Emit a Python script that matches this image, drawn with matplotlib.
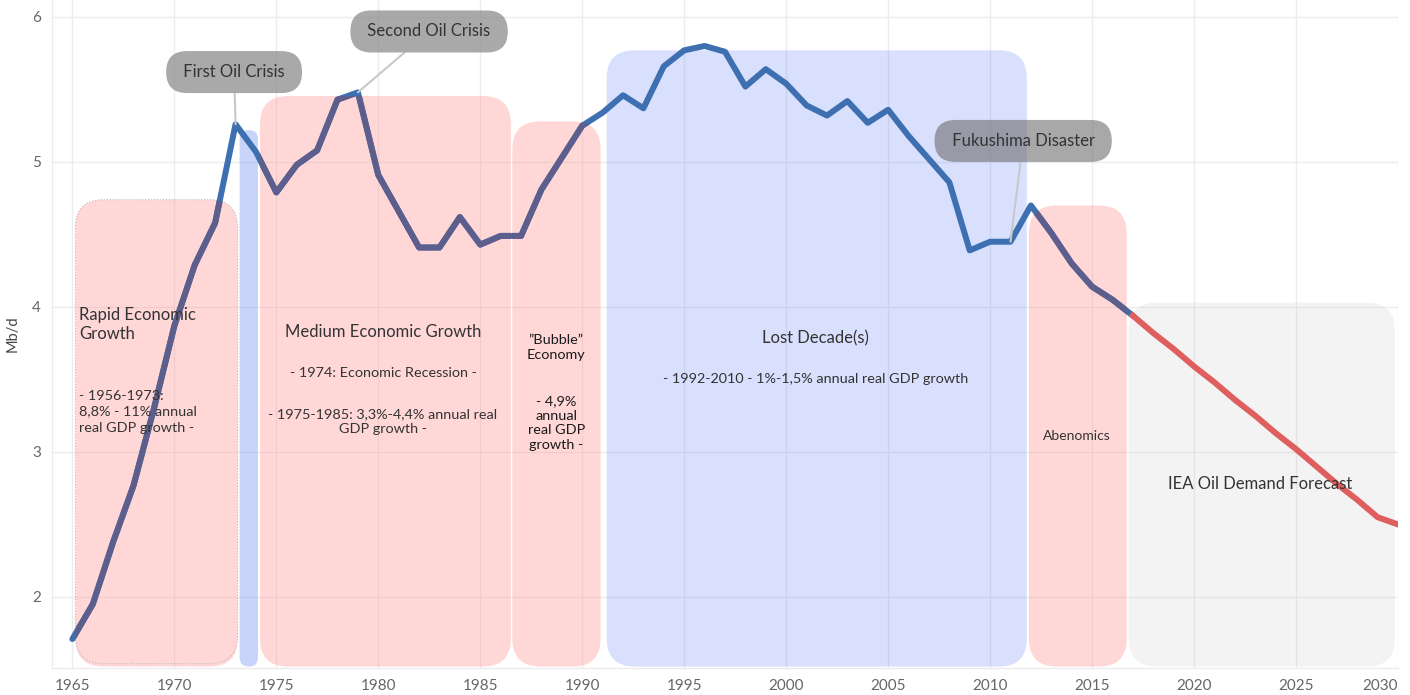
import matplotlib
matplotlib.use("Agg")
import matplotlib.pyplot as plt
from matplotlib.patches import FancyBboxPatch, BoxStyle

plt.rcParams['font.family'] = ['Lato', 'DejaVu Sans']

# Japan oil demand, Mb/d
hist_years = list(range(1965, 2018))
hist_values = [1.71, 1.95, 2.38, 2.77, 3.30, 3.87, 4.29, 4.58, 5.26, 5.07,
               4.79, 4.98, 5.08, 5.43, 5.48, 4.91, 4.66, 4.41, 4.41, 4.62,
               4.43, 4.49, 4.49, 4.81, 5.03, 5.25, 5.34, 5.46, 5.37, 5.66,
               5.77, 5.80, 5.76, 5.52, 5.64, 5.54, 5.39, 5.32, 5.42, 5.27,
               5.36, 5.18, 5.02, 4.86, 4.39, 4.45, 4.45, 4.70, 4.51, 4.30,
               4.14, 4.05, 3.94]
fc_years = list(range(2017, 2031))
fc_values = [3.94, 3.82, 3.71, 3.59, 3.48, 3.36, 3.25, 3.13, 3.02, 2.90,
             2.78, 2.67, 2.55, 2.50]

# periods: (start, end, top, kind)
period_start = [1965.15, 1973.2, 1974.2, 1986.57, 1991.2, 2011.9, 2016.8]
period_end = [1973.1, 1974.1, 1986.5, 1990.9, 2011.8, 2016.7, 2029.85]
period_top = [4.74, 5.22, 5.455, 5.28, 5.77, 4.70, 4.03]
period_kind = ['pink', 'bar', 'pink', 'pink', 'blue', 'pink', 'gray']

kind_style = {
    'pink': ('#ff8f8f', 0.35),
    'bar': ('#7894f7', 0.40),
    'blue': ('#7390f8', 0.28),
    'gray': ('#c0c0c0', 0.18),
}

events = ['First Oil Crisis', 'Second Oil Crisis', 'Fukushima Disaster']
event_years = [1973, 1979, 2011]
event_box_pos = [(1972.93, 5.62), (1982.49, 5.90), (2011.62, 5.145)]

ymin, ymax = 1.51, 6.117
xmin, xmax = 1964.0, 2030.0

fig = plt.figure(figsize=(14.1, 6.95), dpi=100)
ax = fig.add_axes([52 / 1410, 27 / 695, 1346 / 1410, 668 / 695])
ax.set_xlim(xmin, xmax)
ax.set_ylim(ymin, ymax)

# aspect to keep the rounded corners circular in pixels
aspect = (1 / 145) / (1 / 20.39)

pink_patches = []
for x0, x1, top, kind in zip(period_start, period_end, period_top, period_kind):
    col, a = kind_style[kind]
    rs = 0.45 if kind == 'bar' else 1.37
    p = FancyBboxPatch((x0, 1.52), x1 - x0, top - 1.52,
                       boxstyle=BoxStyle("Round", pad=0, rounding_size=rs),
                       mutation_aspect=aspect, fc=col, alpha=a, ec='none', zorder=1)
    ax.add_patch(p)
    if kind == 'pink':
        pink_patches.append(p)

# dotted border on the first period
border = FancyBboxPatch((period_start[0], 1.54), period_end[0] - period_start[0], period_top[0] - 1.54,
                        boxstyle=BoxStyle("Round", pad=0, rounding_size=1.37),
                        mutation_aspect=aspect, fc='none', ec='#bbbbbb', lw=0.8, ls=':', zorder=1.5)
ax.add_patch(border)

ax.plot(hist_years, hist_values, color='#3e6fb0', lw=4.3, zorder=2, solid_capstyle='round')
for p in pink_patches:
    ln, = ax.plot(hist_years, hist_values, color='#5d5e8b', lw=4.3, zorder=2.5)
    ln.set_clip_path(p)
ax.plot(fc_years, fc_values, color='#df5f5f', lw=4.3, zorder=2.6)

# labels inside the periods
dark = '#333333'
big, small = 12, 10.4
ax.text(1965.32, 4.0, 'Rapid Economic\nGrowth', ha='left', va='top', fontsize=big,
        color=dark, linespacing=1.2, zorder=4)
ax.text(1965.32, 3.43, '- 1956-1973:\n8,8% - 11% annual\nreal GDP growth -', ha='left', va='top',
        fontsize=small, color=dark, linespacing=1.4, zorder=4)
ax.text(1980.23, 3.83, 'Medium Economic Growth', ha='center', va='center', fontsize=big, color=dark, zorder=4)
ax.text(1980.23, 3.545, '- 1974: Economic Recession -', ha='center', va='center', fontsize=small, color=dark, zorder=4)
ax.text(1980.23, 3.21, '- 1975-1985: 3,3%-4,4% annual real\nGDP growth -', ha='center', va='center',
        fontsize=small, color=dark, linespacing=1.3, zorder=4)
ax.text(1988.72, 3.72, '\u201dBubble\u201d\nEconomy', ha='center', va='center', fontsize=small,
        color='#1a1a1a', linespacing=1.25, zorder=4)
ax.text(1988.72, 3.20, '- 4,9%\nannual\nreal GDP\ngrowth -', ha='center', va='center', fontsize=small,
        color='#1a1a1a', linespacing=1.28, zorder=4)
ax.text(2001.42, 3.78, 'Lost Decade(s)', ha='center', va='center', fontsize=big, color=dark, zorder=4)
ax.text(2001.42, 3.50, '- 1992-2010 - 1%-1,5% annual real GDP growth', ha='center', va='center',
        fontsize=small, color=dark, zorder=4)
ax.text(2014.27, 3.11, 'Abenomics', ha='center', va='center', fontsize=10, color=dark, zorder=4)
ax.text(2023.24, 2.78, 'IEA Oil Demand Forecast', ha='center', va='center', fontsize=big, color=dark, zorder=4)

# event callouts
box_fc = ['#8c8c8c', '#8c8c8c', '#6e6e6e']
box_alpha = [0.75, 0.75, 0.6]
for name, yr, pos, bfc, ba in zip(events, event_years, event_box_pos, box_fc, box_alpha):
    yv = hist_values[hist_years.index(yr)]
    ax.annotate(' ' + name + ' ', xy=(yr, yv), xytext=pos, ha='center', va='center',
                fontsize=12, color=dark, zorder=5,
                bbox=dict(boxstyle='round,pad=0.78,rounding_size=1.25', fc=bfc, alpha=ba, ec='none'),
                arrowprops=dict(arrowstyle='-', color='#c8c8c8', lw=1.5, shrinkA=0, shrinkB=0))

ax.set_xticks(range(1965, 2031, 5))
ax.set_yticks([2, 3, 4, 5, 6])
ax.grid(True, color='#ececec', lw=1)
ax.set_axisbelow(True)
ax.tick_params(length=0, labelsize=11, labelcolor='#666666', pad=8)
ax.get_xticklabels()[-1].set_horizontalalignment('right')
for side in ['top', 'right']:
    ax.spines[side].set_visible(False)
for side in ['left', 'bottom']:
    ax.spines[side].set_color('#eaeaea')
ax.set_ylabel('Mb/d', fontsize=10.5, color='#444444', labelpad=9)

fig.savefig('out.png', dpi=100)
